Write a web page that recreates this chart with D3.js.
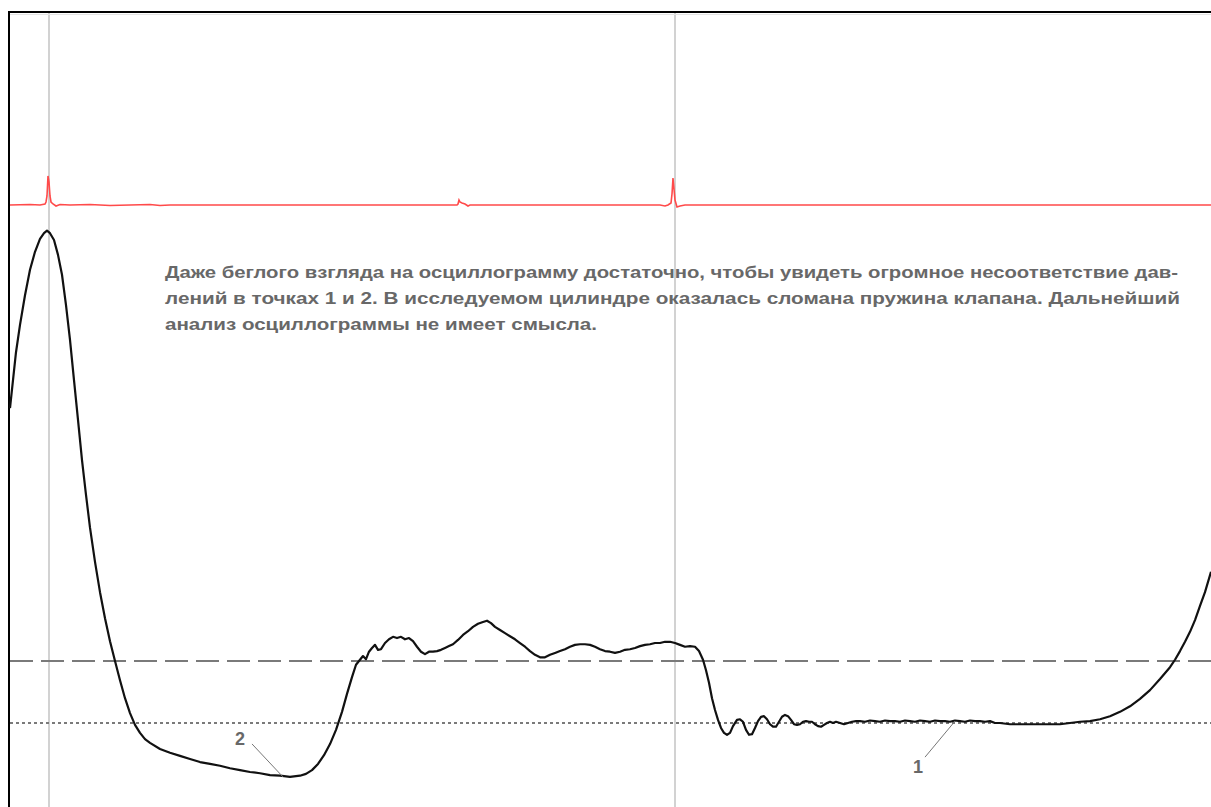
<!DOCTYPE html>
<html>
<head>
<meta charset="utf-8">
<script src="https://cdn.jsdelivr.net/npm/d3@7/dist/d3.min.js"></script>
<style>
  html, body { margin: 0; padding: 0; background: #fff; }
  svg { display: block; }
</style>
</head>
<body>
<svg id="chart" width="1211" height="807"></svg>
<script>
// Cylinder pressure trace (kPa relative to atmosphere) against sample index
const pressureT = [0,3,6,10,15,20,25,30,34,37,40,44,48,52,56,60,64,68,72,76,80,85,90,95,100,105,110,115,120,125,130,135,140,150,160,170,180,190,200,210,220,230,240,250,260,270,280,290,296,302,308,314,320,326,332,337,342,346,350,353,356,359,362,365,368,371,375,379,383,387,391,395,399,403,407,411,415,419,423,427,431,435,439,443,448,453,458,463,468,473,477,481,485,490,495,500,505,510,515,520,525,530,535,540,545,550,555,560,565,570,575,580,585,590,595,600,605,610,615,620,625,630,635,640,645,650,655,660,665,670,675,680,685,689,693,696,699,702,705,708,711,714,717,720,723,727,730,733,736,739,742,745,748,751,754,757,760,763,766,769,772,775,778,781,784,787,790,793,796,799,802,805,808,811,814,817,820,823,826,830,834,838,842,846,850,855,860,865,870,875,880,885,890,895,900,905,910,915,920,925,930,935,940,945,950,955,960,965,970,975,980,985,990,1000,1010,1020,1030,1040,1050,1060,1070,1080,1090,1100,1110,1120,1130,1140,1150,1160,1165,1170,1175,1180,1185,1190,1195,1201];
const pressureKPa = [508,553,598,642,690,731,760,781,790,794,790,779,755,723,674,618,553,489,424,368,315,260,211,169,132,100,69,40,16,-3,-16,-26,-32,-42,-48,-53,-58,-63,-66,-69,-73,-76,-79,-81,-84,-85,-87,-85,-82,-76,-66,-52,-34,-11,18,47,74,94,102,108,103,115,121,126,118,119,129,135,139,137,139,135,137,132,123,115,111,115,115,116,118,121,124,127,134,142,148,155,160,163,165,161,155,150,145,140,135,129,123,116,110,106,106,110,113,116,119,123,126,127,127,126,123,119,116,115,113,115,118,119,121,124,126,127,129,129,131,131,129,126,123,124,123,116,102,85,65,40,21,5,-8,-16,-19,-16,-5,5,6,2,-11,-19,-18,-8,3,10,11,6,-2,-6,-6,2,10,13,11,5,-2,-3,-2,2,3,2,2,-2,-5,-6,-3,0,2,0,2,0,-2,0,2,3,3,2,4,3,2,4,3,3,2,4,3,2,4,3,2,4,3,3,2,4,3,2,4,3,3,2,3,0,0,-2,-2,-2,-2,-2,-2,0,2,3,6,11,18,27,39,53,71,90,102,116,131,147,166,189,211,244];

// Ignition sync channel (V)
const syncT = [0,20,30,35,36,37,38,39,40,41,43,46,50,60,80,100,120,140,150,160,200,300,400,440,447,448,449,450,452,455,458,460,500,600,640,650,655,658,661,662,663,664,665,667,670,675,690,700,800,900,1000,1100,1201];
const syncV = [0,0.05,0,0.1,0.3,0.9,2.9,2.3,0.9,0.3,0.1,-0.1,0.05,0,0.05,-0.05,0,0.05,-0.05,0,0,0,0,0,0,0.1,0.5,0.3,0.2,0.1,-0.1,0,0,0,0,0,-0.1,0,0.2,1.1,2.7,1.6,0.5,-0.2,-0.1,0,0,0,0,0,0,0,0];

// Reference levels (kPa) and TDC markers (sample index)
const levelNames = ["reference", "atmosphere"];
const levelKPa = [100, 0];
const markerT = [39, 665];

// Numbered points on the trace
const pointLabels = ["2", "1"];
const pointT = [273, 945];
const pointKPa = [-87, 3];

const noteLines = [
  "Даже беглого взгляда на осциллограмму достаточно, чтобы увидеть огромное несоответствие дав-",
  "лений в точках 1 и 2. В исследуемом цилиндре оказалась сломана пружина клапана. Дальнейший",
  "анализ осциллограммы не имеет смысла."
];

const svg = d3.select("#chart");

const x = d3.scaleLinear().domain([0, 1201]).range([10, 1211]);
const y = d3.scaleLinear().domain([-100, 800]).range([785, 227]);
const ySync = d3.scaleLinear().domain([0, 3]).range([205, 175]);

// TDC marker lines
svg.append("g").selectAll("line").data(markerT).join("line")
  .attr("x1", d => x(d)).attr("x2", d => x(d))
  .attr("y1", 13).attr("y2", 807)
  .attr("stroke", "#d2d2d2").attr("stroke-width", 2);

// Reference levels
svg.append("g").selectAll("line").data(levelKPa).join("line")
  .attr("x1", x(0)).attr("x2", 1211)
  .attr("y1", d => y(d)).attr("y2", d => y(d))
  .attr("stroke", "#7a7a7a").attr("stroke-width", 2)
  .attr("stroke-dasharray", (d, i) => i === 0 ? "23,8" : "3,3");

// Frame (top and left)
svg.append("line").attr("x1", 8).attr("x2", 1211).attr("y1", 14.5).attr("y2", 14.5)
  .attr("stroke", "#e4e4e4").attr("stroke-width", 1);
svg.append("line").attr("x1", 8).attr("x2", 1211).attr("y1", 12).attr("y2", 12)
  .attr("stroke", "#000").attr("stroke-width", 2);
svg.append("line").attr("x1", 9).attr("x2", 9).attr("y1", 11).attr("y2", 807)
  .attr("stroke", "#000").attr("stroke-width", 2);

// Sync channel
const syncData = syncT.map((t, i) => [t, syncV[i]]);
svg.append("path").datum(syncData)
  .attr("fill", "none").attr("stroke", "#ff4a4a").attr("stroke-width", 1.6)
  .attr("d", d3.line().x(d => x(d[0])).y(d => ySync(d[1])));

// Pressure trace
const pData = pressureT.map((t, i) => [t, pressureKPa[i]]);
svg.append("path").datum(pData)
  .attr("fill", "none").attr("stroke", "#111").attr("stroke-width", 2.2)
  .attr("stroke-linejoin", "round")
  .attr("d", d3.line().x(d => x(d[0])).y(d => y(d[1])));

// Annotation text
const noteWidths = [1013, 1015, 432];
svg.append("g").selectAll("text").data(noteLines).join("text")
  .attr("x", 165).attr("y", (d, i) => 278 + i * 26)
  .attr("font-family", "Liberation Sans, Arial, sans-serif")
  .attr("font-weight", "bold").attr("font-size", 17)
  .attr("fill", "#686868")
  .attr("textLength", (d, i) => noteWidths[i])
  .attr("lengthAdjust", "spacingAndGlyphs")
  .text(d => d);

// Numbered points with leader lines
const labelDx = [-43, -37];
const labelDy = [-32, 52];
const leaderDx = [-31, -30];
const leaderDy = [-33, 36];
const pts = pointLabels.map((l, i) => ({
  label: l, t: pointT[i], v: pointKPa[i],
  dx: labelDx[i], dy: labelDy[i], ldx: leaderDx[i], ldy: leaderDy[i]
}));
const pg = svg.append("g");
pg.selectAll("line").data(pts).join("line")
  .attr("x1", d => x(d.t)).attr("y1", d => y(d.v))
  .attr("x2", d => x(d.t) + d.ldx).attr("y2", d => y(d.v) + d.ldy)
  .attr("stroke", "#777").attr("stroke-width", 1);
pg.selectAll("text").data(pts).join("text")
  .attr("x", d => x(d.t) + d.dx).attr("y", d => y(d.v) + d.dy)
  .attr("text-anchor", "middle")
  .attr("font-family", "Liberation Sans, Arial, sans-serif")
  .attr("font-weight", "bold").attr("font-size", 18)
  .attr("fill", "#686868")
  .text(d => d.label);
</script>
</body>
</html>
